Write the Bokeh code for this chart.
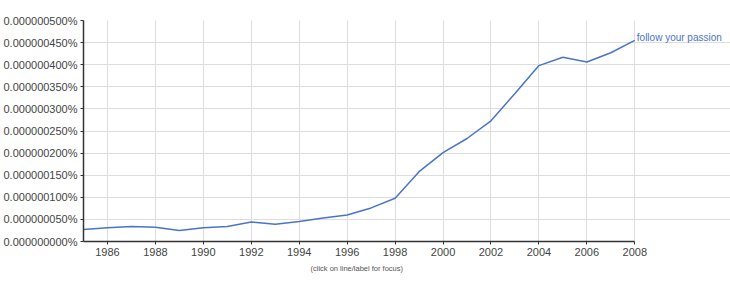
from bokeh.plotting import figure
from bokeh.models import FixedTicker, CustomJSTickFormatter, Range1d, ColumnDataSource, Title
from bokeh.core.properties import value
from bokeh.embed import file_html
from bokeh.resources import INLINE

years = list(range(1985, 2009))
# frequency in percent
values = [0.000000027, 0.000000031, 0.000000034, 0.000000032, 0.000000025,
          0.000000031, 0.000000034, 0.000000044, 0.000000039, 0.000000045,
          0.000000053, 0.000000060, 0.000000076, 0.000000098, 0.000000158,
          0.000000201, 0.000000233, 0.000000273, 0.000000335, 0.000000398,
          0.000000417, 0.000000406, 0.000000427, 0.000000455]
series_name = "follow your passion"
x_ticks = list(range(1986, 2009, 2))
y_ticks = [i * 0.00000005 for i in range(11)]
caption = "(click on line/label for focus)"

FONT = "Liberation Sans"
LINE = "#4a74c9"

x0, x1 = years[0], years[-1]
# frame is extended to the right to leave room for the series label
left_px, data_px = 81, 553
right_px = 730
x_end = x0 + (x1 - x0) * (right_px - left_px) / data_px

p = figure(width=730, height=285, output_backend="svg", toolbar_location=None,
           x_range=Range1d(x0, x_end), y_range=Range1d(0, 0.0000005),
           min_border_left=left_px, min_border_right=0, min_border_top=20,
           min_border_bottom=44)
p.outline_line_color = None
p.background_fill_color = "white"
p.border_fill_color = "white"

p.line(years, values, line_color=LINE, line_width=1.5)

src = ColumnDataSource(dict(x=[years[-1]], y=[values[-1]], t=[series_name]))
p.text(x="x", y="y", text="t", source=src, x_offset=2, y_offset=-3,
       text_baseline="middle", text_align="left", text_font=value(FONT),
       text_font_size="10px", text_color=LINE)

p.xaxis.ticker = FixedTicker(ticks=x_ticks)
p.yaxis.ticker = FixedTicker(ticks=y_ticks)
p.yaxis.formatter = CustomJSTickFormatter(code="return tick.toFixed(9) + '%';")
p.xaxis.bounds = (x0, x1)

for ax in (p.xaxis[0], p.yaxis[0]):
    ax.axis_line_color = "#333333"
    ax.axis_line_width = 1.5
    ax.major_tick_line_color = "#333333"
    ax.major_tick_out = 3
    ax.major_tick_in = 0
    ax.minor_tick_line_color = None
    ax.major_label_text_font = FONT
    ax.major_label_text_font_size = "11px"
    ax.major_label_text_color = "#444444"
    ax.major_label_standoff = 3

cap = Title(text=caption, align="left", offset=227, text_font=FONT,
            text_font_size="7.5px", text_font_style="normal",
            text_color="#555555", standoff=6)
p.add_layout(cap, "below")

p.xgrid.grid_line_color = "#dddddd"
p.ygrid.grid_line_color = "#dddddd"
p.xgrid.ticker = FixedTicker(ticks=x_ticks)
p.ygrid.ticker = FixedTicker(ticks=y_ticks)
p.ygrid.bounds = (x0, x1)
p.xgrid.bounds = (0, 0.0000005)

open("out.html", "w").write(file_html(p, INLINE))
